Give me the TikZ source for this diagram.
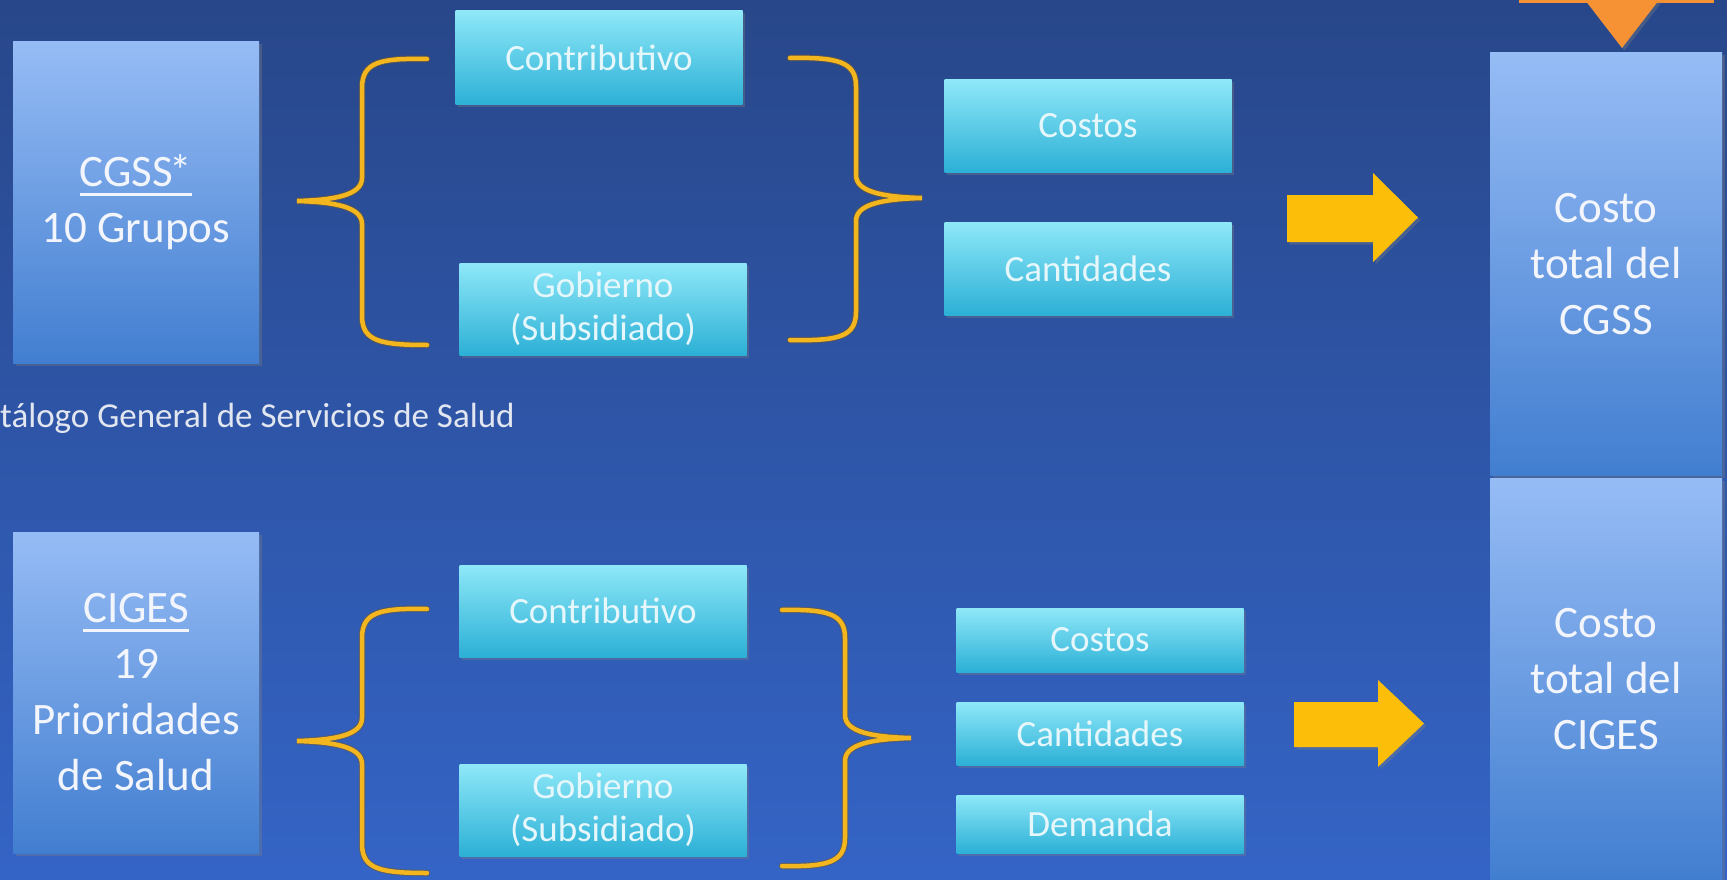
\documentclass[tikz,border=0pt]{standalone}
\usepackage{fontspec}
\setmainfont{Carlito}
\usetikzlibrary{shadows}
\definecolor{bgtop}{RGB}{40,71,138}
\definecolor{bgmid}{RGB}{42,77,152}
\definecolor{bgbot}{RGB}{52,100,198}
\definecolor{bigtop}{RGB}{150,188,245}
\definecolor{bigbot}{RGB}{66,126,208}
\definecolor{smalltop}{RGB}{142,232,248}
\definecolor{smallbot}{RGB}{44,176,214}
\definecolor{smalltxt}{RGB}{230,247,252}
\definecolor{bigtxt}{RGB}{242,245,252}
\definecolor{footcol}{RGB}{225,230,240}
\definecolor{braceyellow}{RGB}{243,182,30}
\definecolor{braceedge}{RGB}{110,90,50}
\definecolor{arrowgold}{RGB}{252,190,8}
\definecolor{arroworange}{RGB}{246,146,52}
\newcommand{\ulbox}[1]{\setbox0\hbox{#1}\rlap{\rule[-9.5pt]{\wd0}{3pt}}\box0}
\begin{document}
\begin{tikzpicture}[x=1pt,y=-1pt,
  shadowed/.style={drop shadow={opacity=0.35, shadow xshift=2.5pt, shadow yshift=-2.5pt}},
  bigbox/.style={rectangle, inner sep=0pt, top color=bigtop, bottom color=bigbot,
    text=bigtxt, align=center, font=\fontsize{45}{56}\selectfont, shadowed},
  smallbox/.style={rectangle, inner sep=0pt, minimum width=287pt, top color=smalltop,
    bottom color=smallbot, text=smalltxt, align=center, font=\fontsize{37}{43}\selectfont, shadowed},
  bracestyle/.style={draw=braceyellow, line width=4.5pt, line cap=round,
    preaction={draw=braceedge, line width=6.5pt, line cap=round, opacity=0.6}},
  goldarrow/.style={fill=arrowgold, shadowed},
]
\useasboundingbox (0,0) rectangle (1727,880);
\clip (0,0) rectangle (1727,880);
\shade[top color=bgtop, middle color=bgmid, bottom color=bgbot] (0,0) rectangle (1727,880);

% left column
\node[bigbox, minimum width=246pt, minimum height=321pt] (cgss) at (136,202.5) {\ulbox{CGSS\kern-3pt*}\\10 Grupos};
\node[bigbox, minimum width=246pt, minimum height=321pt] (ciges) at (136,692.5) {\ulbox{CIGES}\\19\\Prioridades\\de Salud};
\node[anchor=base west, inner sep=0pt, text=footcol, font=\fontsize{35}{42}\selectfont] (foot) at (0,427) {tálogo General de Servicios de Salud};

% right column
\node[bigbox, minimum width=232pt, minimum height=422pt] (totcgss) at (1606,264) {Costo\\total del\\CGSS};
\node[bigbox, minimum width=232pt, minimum height=402pt] (totciges) at (1606,679) {Costo\\total del\\CIGES};

% small boxes, top row
\node[smallbox, minimum height=94pt] (contA) at (599,58) {Contributivo};
\node[smallbox, minimum height=92pt] (gobA) at (603,309) {Gobierno\\(Subsidiado)};
\node[smallbox, minimum height=92pt] (costA) at (1088,126) {Costos};
\node[smallbox, minimum height=93pt] (cantA) at (1088,268.5) {Cantidades};

% small boxes, bottom row
\node[smallbox, minimum height=92pt] (contB) at (603,611) {Contributivo};
\node[smallbox, minimum height=92pt] (gobB) at (603,810) {Gobierno\\(Subsidiado)};
\node[smallbox, minimum height=64pt] (costB) at (1100,640) {Costos};
\node[smallbox, minimum height=63pt] (cantB) at (1100,733.5) {Cantidades};
\node[smallbox, minimum height=58pt] (demB) at (1100,824) {Demanda};

% braces, top
\draw[bracestyle] (427,59) .. controls (380,58) and (362,62) .. (362,88) -- (362,178)
  .. controls (362,195) and (335,200) .. (297,201)
  .. controls (335,202) and (362,207) .. (362,224) -- (362,316)
  .. controls (362,341) and (380,345) .. (427,345);
\draw[bracestyle] (790,58) .. controls (838,57) and (856,62) .. (856,86) -- (856,175)
  .. controls (856,192) and (883,197) .. (922,198)
  .. controls (883,199) and (856,204) .. (856,221) -- (856,312)
  .. controls (856,337) and (838,341) .. (790,340);

% braces, bottom
\draw[bracestyle] (427,609) .. controls (380,608) and (362,612) .. (362,638) -- (362,718)
  .. controls (362,735) and (335,740) .. (297,741)
  .. controls (335,742) and (362,747) .. (362,764) -- (362,844)
  .. controls (362,869) and (380,873) .. (427,873);
\draw[bracestyle] (782,610) .. controls (828,609) and (845,614) .. (845,638) -- (845,715)
  .. controls (845,732) and (872,737) .. (911,738)
  .. controls (872,739) and (845,744) .. (845,761) -- (845,838)
  .. controls (845,862) and (828,867) .. (782,866);

% block arrows
\fill[goldarrow] (1287,195) -- (1373,195) -- (1373,173) -- (1418,217.5) -- (1373,262) -- (1373,242) -- (1287,242) -- cycle;
\fill[goldarrow] (1294,702) -- (1378,702) -- (1378,680) -- (1424,723.5) -- (1378,767) -- (1378,747) -- (1294,747) -- cycle;

% orange arrow tip at top
\fill[arroworange] (1519,0) rectangle (1714,3);
\fill[arroworange, shadowed] (1585,0) -- (1659,0) -- (1622,48) -- cycle;
\end{tikzpicture}
\end{document}
